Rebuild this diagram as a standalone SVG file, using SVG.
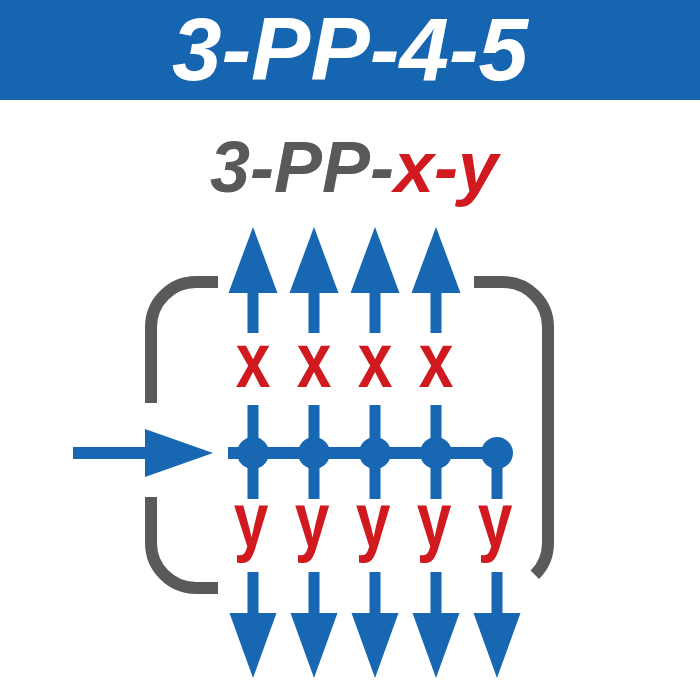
<svg xmlns="http://www.w3.org/2000/svg" width="700" height="700" viewBox="0 0 700 700">
<style>
.blue{fill:#1767b3}
.bl{stroke:#1767b3;fill:none;stroke-linecap:butt}
.gray{stroke:#5a5a5a;stroke-width:12;fill:none;stroke-linecap:butt}
.ttl{font-family:"Liberation Sans",Arial,sans-serif;font-weight:bold;font-style:italic;text-anchor:middle}
.lbl{font-family:"Liberation Sans",Arial,sans-serif;font-weight:bold;fill:#d11a1f;font-size:78px;text-anchor:middle}
</style>
<defs>
<g id="up"><rect x="-5.5" y="292" width="11" height="41"/><polygon points="0,227 24.5,293 -24.5,293"/></g>
<g id="down"><rect x="-5.5" y="572" width="11" height="42"/><polygon points="-23.5,613 23.5,613 0,678"/></g>
</defs>
<rect x="0" y="0" width="700" height="100" fill="#1565b0"/>
<text class="ttl" x="350" y="80" font-size="89" fill="#ffffff">3-PP-4-5</text>
<text class="ttl" x="354" y="192" font-size="72" fill="#595959">3-PP-<tspan fill="#d11a1f">x-y</tspan></text>
<g id="bracket-left">
<path class="gray" d="M218,282 H196 A45,45 0 0 0 151,327 V403"/>
<path class="gray" d="M151,497 V543 A45,45 0 0 0 196,588 H218"/>
</g>
<g id="bracket-right">
<path class="gray" d="M474,282 H503 A45,45 0 0 1 548,327 V543 A45,45 0 0 1 534.8,574.8"/>
</g>
<g id="connectors">
<g id="input-arrow" class="blue"><rect x="73" y="447" width="74" height="12"/><polygon points="145,429 213,453 145,477"/></g>
<line class="bl" x1="228" y1="453" x2="497" y2="453" stroke-width="12"/>
<line class="bl" x1="253" y1="405" x2="253" y2="499" stroke-width="11"/>
<line class="bl" x1="314" y1="405" x2="314" y2="499" stroke-width="11"/>
<line class="bl" x1="375" y1="405" x2="375" y2="499" stroke-width="11"/>
<line class="bl" x1="436" y1="405" x2="436" y2="499" stroke-width="11"/>
<line class="bl" x1="497" y1="453" x2="497" y2="499" stroke-width="11"/>
<g class="blue">
<use href="#up" x="253"/><use href="#up" x="314"/><use href="#up" x="375"/><use href="#up" x="436"/>
<use href="#down" x="253"/><use href="#down" x="314"/><use href="#down" x="375"/><use href="#down" x="436"/><use href="#down" x="497"/>
</g>
</g>
<g id="node-1"><circle class="blue" cx="253" cy="453" r="16"/></g>
<g id="node-2"><circle class="blue" cx="314" cy="453" r="16"/></g>
<g id="node-3"><circle class="blue" cx="375" cy="453" r="16"/></g>
<g id="node-4"><circle class="blue" cx="436" cy="453" r="16"/></g>
<g id="node-5"><circle class="blue" cx="497" cy="453" r="16"/></g>
<g id="labels-x">
<text class="lbl" transform="translate(253,387) scale(0.8,1)">x</text>
<text class="lbl" transform="translate(314,387) scale(0.8,1)">x</text>
<text class="lbl" transform="translate(375,387) scale(0.8,1)">x</text>
<text class="lbl" transform="translate(436,387) scale(0.8,1)">x</text>
</g>
<g id="labels-y">
<text class="lbl" transform="translate(251,547) scale(0.8,1)">y</text>
<text class="lbl" transform="translate(312,547) scale(0.8,1)">y</text>
<text class="lbl" transform="translate(373,547) scale(0.8,1)">y</text>
<text class="lbl" transform="translate(434,547) scale(0.8,1)">y</text>
<text class="lbl" transform="translate(495,547) scale(0.8,1)">y</text>
</g>
</svg>
